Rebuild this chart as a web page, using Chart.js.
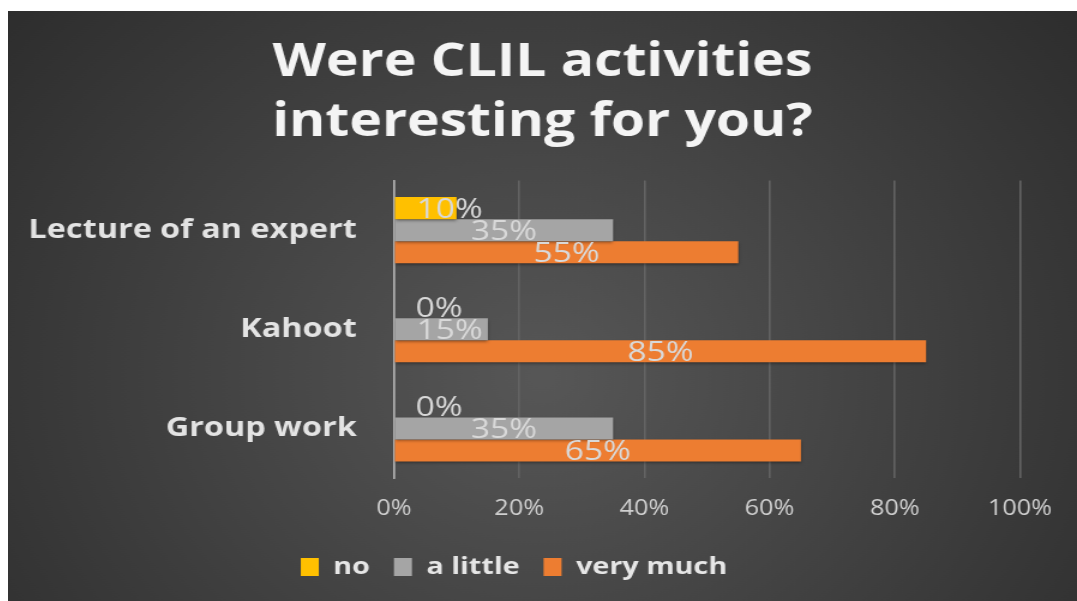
<!DOCTYPE html>
<html>
<head>
<meta charset="utf-8">
<script src="https://cdn.jsdelivr.net/npm/chart.js"></script>
<style>
  html, body { margin: 0; padding: 0; background: #ffffff; }
  /* the original picture is stretched sideways, so the canvas is too */
  #clilChart {
    position: absolute; left: 8px; top: 11px;
    transform: scaleX(1.19978); transform-origin: 0 0;
  }
</style>
</head>
<body>
<canvas id="clilChart" width="891" height="590"></canvas>
<script>
// chart data
const categories = ['Lecture of an expert', 'Kahoot', 'Group work'];
const seriesNames = ['no', 'a little', 'very much'];
const noValues = [0.10, 0, 0];
const littleValues = [0.35, 0.15, 0.35];
const muchValues = [0.55, 0.85, 0.65];
const tickValues = [0, 0.2, 0.4, 0.6, 0.8, 1];

const FONT = '"Open Sans", sans-serif';

// dark radial background + bar shadow
const bgPlugin = {
    id: 'bg',
    beforeDraw(chart) {
        const { ctx, width, height } = chart;
        const g = ctx.createRadialGradient(width * 0.5, height * 0.62, 10, width * 0.5, height * 0.62, width * 0.7);
        g.addColorStop(0, '#565656');
        g.addColorStop(1, '#2a2a2a');
        ctx.save();
        ctx.fillStyle = g;
        ctx.fillRect(0, 0, width, height);
        ctx.restore();
    },
    afterLayout(chart) {
        // title is centred on the whole picture, the legend is not
        chart.titleBlock.right = chart.width;
    },
    beforeDatasetsDraw(chart) {
        const ctx = chart.ctx;
        ctx.save();
        ctx.shadowColor = 'rgba(0,0,0,0.45)';
        ctx.shadowBlur = 3;
        ctx.shadowOffsetY = 2;
    },
    afterDatasetsDraw(chart) {
        chart.ctx.restore();
    }
};

// value labels in the bars
const labelPlugin = {
    id: 'barLabels',
    afterDatasetsDraw(chart) {
        const { ctx } = chart;
        ctx.save();
        ctx.font = '28px ' + FONT;
        ctx.fillStyle = '#d9d9d9';
        ctx.textBaseline = 'middle';
        ctx.textAlign = 'center';
        chart.data.datasets.forEach((ds, i) => {
            chart.getDatasetMeta(i).data.forEach((bar, j) => {
                const txt = Math.round(ds.data[j] * 100) + '%';
                const w = ctx.measureText(txt).width;
                let x = (bar.x + bar.base) / 2;
                x = Math.max(x, bar.base + 18 + w / 2);
                ctx.fillText(txt, x, bar.y + 2);
            });
        });
        ctx.restore();
    }
};

const ctx = document.getElementById('clilChart').getContext('2d');
const clilChart = new Chart(ctx, {
    type: 'bar',
    data: {
        labels: categories,
        datasets: [
            { label: seriesNames[0], data: noValues, backgroundColor: '#ffc000' },
            { label: seriesNames[1], data: littleValues, backgroundColor: '#a5a5a5' },
            { label: seriesNames[2], data: muchValues, backgroundColor: '#ed7d31' }
        ]
    },
    options: {
        indexAxis: 'y',
        responsive: false,
        animation: false,
        layout: { padding: { left: 0, right: 47.5, top: 0, bottom: 12 } },
        datasets: { bar: { categoryPercentage: 0.667, barPercentage: 1.0 } },
        scales: {
            x: {
                min: 0,
                max: 1,
                afterBuildTicks(scale) {
                    scale.ticks = tickValues.map(v => ({ value: v }));
                },
                afterFit(scale) { scale.height = 57; },
                grid: { color: '#636363', lineWidth: 1.6, drawTicks: false },
                border: { display: false },
                ticks: {
                    padding: 18,
                    color: '#d0d0d0',
                    font: { family: FONT, size: 21 },
                    callback: v => Math.round(v * 100) + '%'
                }
            },
            y: {
                grid: { display: false },
                border: { display: true, color: '#b5b5b5', width: 1.6 },
                afterFit(scale) { scale.width = 321.7; },
                ticks: {
                    padding: 23,
                    color: '#e3e3e3',
                    font: { family: FONT, size: 27, weight: 'bold' }
                }
            }
        },
        plugins: {
            title: {
                display: true,
                text: ['Were CLIL activities', 'interesting for you?'],
                color: '#f4f4f4',
                font: { family: FONT, size: 46, weight: 'bold', lineHeight: 1.3 },
                padding: { top: 22, bottom: 28 }
            },
            legend: {
                position: 'bottom',
                labels: {
                    color: '#e6e6e6',
                    font: { family: FONT, size: 24, weight: 'bold' },
                    boxWidth: 15,
                    boxHeight: 18,
                    padding: 20
                }
            },
            tooltip: { enabled: false }
        }
    },
    plugins: [bgPlugin, labelPlugin]
});
</script>
</body>
</html>
